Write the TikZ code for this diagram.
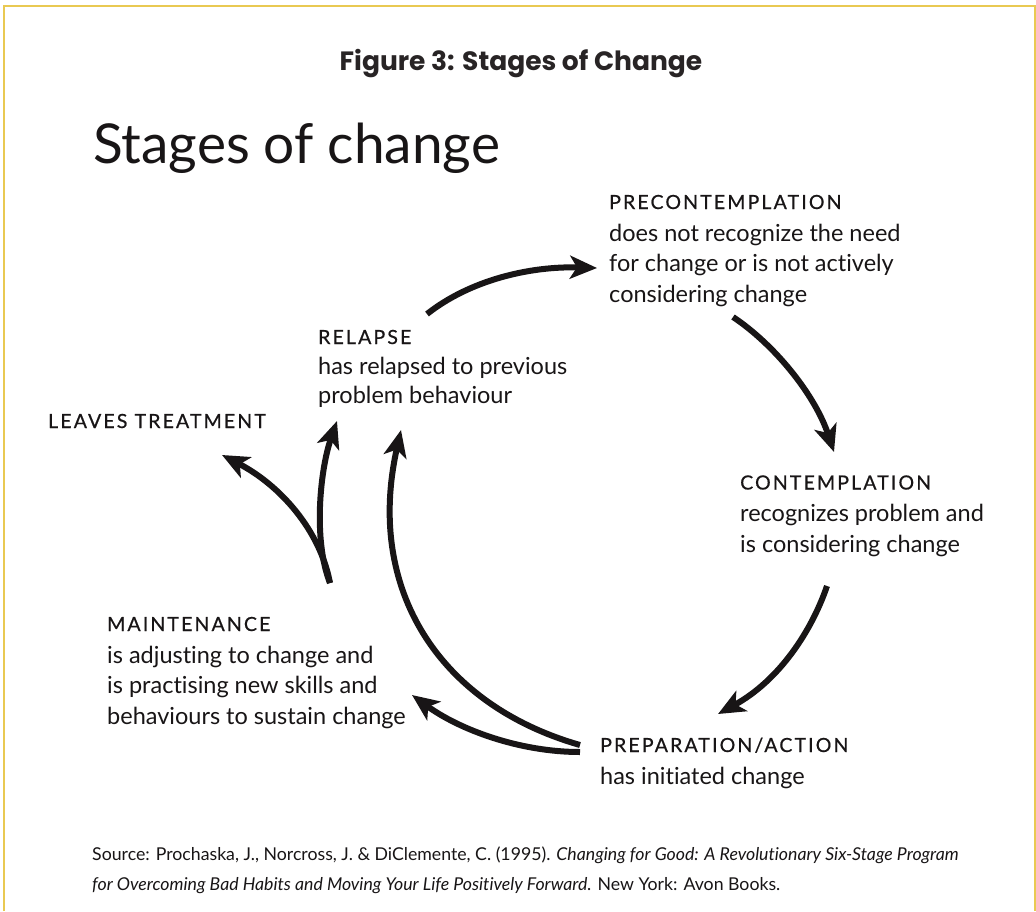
\documentclass[tikz,border=0pt]{standalone}
\usepackage{fontspec}
\usetikzlibrary{arrows.meta}
\setmainfont{Lato}[Ligatures={NoCommon}]
\newfontfamily\headfont{Poppins}
\newfontfamily\capsfont[LetterSpace=11,FakeBold=0.6,Ligatures={NoCommon}]{Lato}
\newfontfamily\srcfont[Ligatures={NoCommon}]{Lato}
\definecolor{frameyellow}{RGB}{233,201,82}
\definecolor{ink}{RGB}{24,21,22}
\definecolor{headink}{RGB}{40,36,37}
\newcommand{\stagecaps}[1]{{\capsfont\fontsize{19.5}{19.5}\selectfont #1}}
% stage texts are anchored at the baseline of their last line
\tikzset{
  stagetext/.style={anchor=base west, align=left, inner sep=0pt, text=ink,
    font=\fontsize{23.5}{30.5}\selectfont},
  flow/.style={line width=6pt, draw=ink,
    -{Stealth[length=27pt,width=23pt,inset=7pt]}},
  frameline/.style={draw=frameyellow, line width=2pt}
}
\begin{document}
\begin{tikzpicture}[x=1pt,y=-1pt]
\useasboundingbox (0,0) rectangle (1036,911);
\fill[white] (0,0) rectangle (1036,911);
% frame
\draw[frameline] (4,911) -- (4,5.5) -- (1035,5.5) -- (1035,911);

% headings
\node[anchor=base, inner sep=0pt, text=headink, font=\headfont\bfseries\fontsize{26.5}{26.5}\selectfont] (fig) at (521,70) {Figure 3: Stages of Change};
\node[anchor=base west, inner sep=0pt, text=ink, font=\fontsize{55}{55}\selectfont] (title) at (93,163) {Stages of change};

% stages
\node[stagetext] (pre) at (609,302) {\stagecaps{PRECONTEMPLATION}\\[1.5pt]does not recognize the need\\for change or is not actively\\considering change};
\node[stagetext] (con) at (740,552) {\stagecaps{CONTEMPLATION}\\[1.5pt]recognizes problem and\\is considering change};
\node[stagetext] (prep) at (600,784) {\stagecaps{PREPARATION/ACTION}\\[1.5pt]has initiated change};
\node[stagetext] (main) at (107,724) {\stagecaps{MAINTENANCE}\\[1.5pt]is adjusting to change and\\is practising new skills and\\behaviours to sustain change};
\node[stagetext] (rel) at (318,403) {\stagecaps{RELAPSE}\\[0pt]has relapsed to previous\\[-2pt]problem behaviour};
\node[stagetext] (leave) at (48,428) {\stagecaps{LEAVES TREATMENT}};

% arrow end points
\coordinate (relOut) at (427,314);
\coordinate (preIn) at (597,268);
\coordinate (preOut) at (733,317);
\coordinate (conIn) at (834,452);
\coordinate (conOut) at (827,586);
\coordinate (prepIn) at (718,714);
\coordinate (prepOutA) at (580,752);
\coordinate (prepOutB) at (580,745);
\coordinate (mainIn) at (412,695);
\coordinate (relInA) at (401,430);
\coordinate (mainOut) at (330,583);
\coordinate (relInB) at (337,421);
\coordinate (leaveIn) at (222,455);

% cycle
\draw[flow] (relOut) .. controls (470,280) and (530,266) .. (preIn);
\draw[flow] (preOut) .. controls (775,345) and (815,395) .. (conIn);
\draw[flow] (conOut) .. controls (812,630) and (780,680) .. (prepIn);
\draw[flow] (prepOutA) .. controls (520,752) and (460,730) .. (mainIn);
\draw[flow] (prepOutB) .. controls (440,705) and (365,590) .. (relInA);
\draw[flow] (mainOut) .. controls (313,540) and (320,470) .. (relInB);
\draw[flow] (mainOut) .. controls (320,530) and (280,485) .. (leaveIn);

% source
\node[anchor=base west, align=left, inner sep=0pt, text=ink, font=\srcfont\fontsize{17.7}{29.5}\selectfont] (src) at (92,890)
  {Source: Prochaska, J., Norcross, J. \& DiClemente, C. (1995). \textit{Changing for Good: A Revolutionary Six-Stage Program}\\
   \textit{for Overcoming Bad Habits and Moving Your Life Positively Forward.} New York: Avon Books.};
\end{tikzpicture}
\end{document}
